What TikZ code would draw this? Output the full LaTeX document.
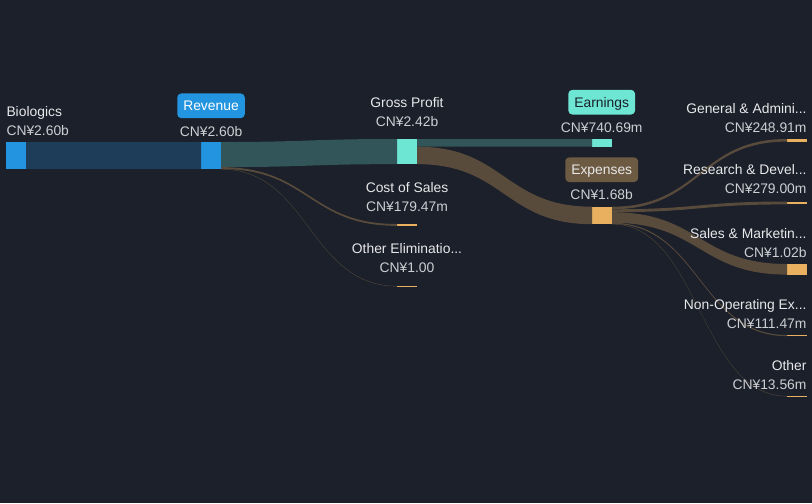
\documentclass[tikz,border=0pt]{standalone}
\usepackage{fontspec}
\setmainfont{Liberation Sans}
\usetikzlibrary{calc}

\definecolor{bg}{RGB}{27,32,43}
\definecolor{nodeblue}{RGB}{35,148,223}
\definecolor{nodeteal}{RGB}{110,230,212}
\definecolor{nodeorange}{RGB}{233,176,96}
\definecolor{tagbrown}{RGB}{108,90,66}
\definecolor{lbltext}{RGB}{232,232,234}
\definecolor{valtext}{RGB}{206,207,211}
\colorlet{flowblue}{nodeblue!25!bg}
\colorlet{flowteal}{nodeteal!27!bg}
\colorlet{flowbrown}{nodeorange!30!bg}

\tikzset{every picture/.style={line width=0.75pt},
  bar/.style={rectangle, inner sep=0pt, outer sep=0pt, minimum width=15pt, draw=none},
  lbl/.style={inner sep=0pt, font=\fontsize{10.4}{12}\selectfont, text=lbltext},
  val/.style={lbl, text=valtext},
  tag/.style={rounded corners=3pt, inner xsep=4.5pt, inner ysep=0pt, minimum height=18.5pt,
    text height=7.4pt, text depth=0pt, font=\fontsize{10.4}{12}\selectfont}
}

% band between two bars: source anchor, offset, target anchor, offset, thickness, colour
\newcommand{\sankeyflow}[6]{%
  \fill[#6] let \p1=(#1), \p2=(#3), \n1={0.5*(\x2-\x1)}, \n2={#2*0.75pt}, \n3={#4*0.75pt}, \n4={#5*0.75pt} in
    (\x1,\y1+\n2) .. controls (\x1+\n1,\y1+\n2) and (\x2-\n1,\y2+\n3) .. (\x2,\y2+\n3)
    -- (\x2,\y2+\n3+\n4) .. controls (\x2-\n1,\y2+\n3+\n4) and (\x1+\n1,\y1+\n2+\n4) .. (\x1,\y1+\n2+\n4) -- cycle;}

\begin{document}
\begin{tikzpicture}[x=0.75pt,y=0.75pt,yscale=-1,xscale=1]
\useasboundingbox (0,0) rectangle (812,503);
\fill[bg] (0,0) rectangle (812,503);

%Bars
\node[bar, fill=nodeblue, minimum height=20.25pt] (bio) at (16,155.5) {};
\node[bar, fill=nodeblue, minimum height=20.25pt] (rev) at (211,155.5) {};
\node[bar, fill=nodeteal, minimum height=18.85pt] (gp) at (407,151.57) {};
\node[bar, fill=nodeorange, minimum height=1.4pt] (cos) at (407,224.93) {};
\node[bar, fill=nodeorange, minimum height=0.75pt] (oe) at (407,286.5) {};
\node[bar, fill=nodeteal, minimum height=5.77pt] (earn) at (602,142.85) {};
\node[bar, fill=nodeorange, minimum height=13.09pt] (exp) at (602,215.43) {};
\node[bar, fill=nodeorange, minimum height=1.94pt] (ga) at (797,140.29) {};
\node[bar, fill=nodeorange, minimum height=2.17pt] (rd) at (797,202.95) {};
\node[bar, fill=nodeorange, minimum height=7.94pt] (sm) at (797,269.3) {};
\node[bar, fill=nodeorange, minimum height=0.87pt] (nop) at (797,335.58) {};
\node[bar, fill=nodeorange, minimum height=0.75pt] (oth) at (797,396.5) {};

%Bands
\sankeyflow{bio.north east}{0}{rev.north west}{0}{27}{flowblue}
\sankeyflow{rev.north east}{0}{gp.north west}{0}{25.13}{flowteal}
\sankeyflow{rev.north east}{25.13}{cos.north west}{0}{1.86}{flowbrown}
\sankeyflow{rev.north east}{26.99}{oe.north west}{0}{0.4}{flowbrown}
\sankeyflow{gp.north east}{0}{earn.north west}{0}{7.69}{flowteal}
\sankeyflow{gp.north east}{7.69}{exp.north west}{0}{17.45}{flowbrown}
\sankeyflow{exp.north east}{0}{ga.north west}{0}{2.585}{flowbrown}
\sankeyflow{exp.north east}{2.585}{rd.north west}{0}{2.897}{flowbrown}
\sankeyflow{exp.north east}{5.48}{sm.north west}{0}{10.59}{flowbrown}
\sankeyflow{exp.north east}{16.07}{nop.north west}{0}{1.158}{flowbrown}
\sankeyflow{exp.north east}{17.23}{oth.north west}{0}{0.4}{flowbrown}

% Text Node
\node[lbl, anchor=base west] (bio-t) at (6,116.7) {Biologics};
\node[val, anchor=base west] (bio-v) at (6,135.7) {CN¥2.60b};
\node[tag, fill=nodeblue, text=white] (rev-tag) at (211,105.8) {Revenue};
\node[val, anchor=base] (rev-v) at (211,136.4) {CN¥2.60b};
\node[lbl, anchor=base] (gp-t) at (407,107.4) {Gross Profit};
\node[val, anchor=base] (gp-v) at (407,126.4) {CN¥2.42b};
\node[lbl, anchor=base] (cos-t) at (407,192.4) {Cost of Sales};
\node[val, anchor=base] (cos-v) at (407,211.4) {CN¥179.47m};
\node[lbl, anchor=base] (oe-t) at (407,253.7) {Other Eliminatio...};
\node[val, anchor=base] (oe-v) at (407,272.7) {CN¥1.00};
\node[tag, fill=nodeteal, text=bg] (earn-tag) at (601.7,102.2) {Earnings};
\node[val, anchor=base] (earn-v) at (601.7,132) {CN¥740.69m};
\node[tag, fill=tagbrown, text=lbltext] (exp-tag) at (601.7,169.7) {Expenses};
\node[val, anchor=base] (exp-v) at (601.7,199) {CN¥1.68b};
\node[lbl, anchor=base east] (ga-t) at (807,113) {General \& Admini...};
\node[val, anchor=base east] (ga-v) at (807,132) {CN¥248.91m};
\node[lbl, anchor=base east] (rd-t) at (807,174.7) {Research \& Devel...};
\node[val, anchor=base east] (rd-v) at (807,193.7) {CN¥279.00m};
\node[lbl, anchor=base east] (sm-t) at (807,238) {Sales \& Marketin...};
\node[val, anchor=base east] (sm-v) at (807,257) {CN¥1.02b};
\node[lbl, anchor=base east] (nop-t) at (807,309) {Non-Operating Ex...};
\node[val, anchor=base east] (nop-v) at (807,328) {CN¥111.47m};
\node[lbl, anchor=base east] (oth-t) at (807,370.4) {Other};
\node[val, anchor=base east] (oth-v) at (807,389) {CN¥13.56m};

\end{tikzpicture}
\end{document}
